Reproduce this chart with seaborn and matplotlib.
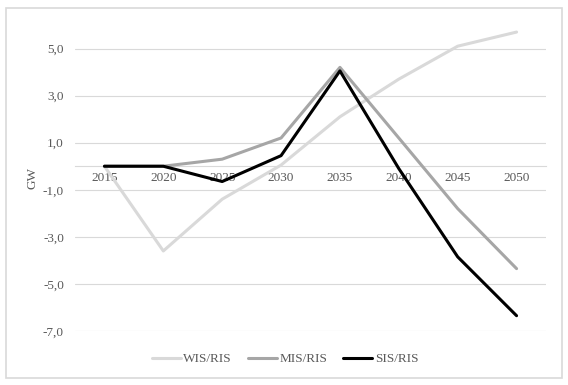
import matplotlib
matplotlib.use("Agg")
import matplotlib.pyplot as plt
import seaborn as sns
import pandas as pd
from matplotlib.patches import Rectangle

years = [2015, 2020, 2025, 2030, 2035, 2040, 2045, 2050]
wis = [0.0, -3.6, -1.4, 0.05, 2.1, 3.7, 5.1, 5.7]
mis = [0.0, 0.0, 0.3, 1.2, 4.2, 1.2, -1.8, -4.35]
sis = [0.0, 0.0, -0.65, 0.45, 4.05, -0.1, -3.85, -6.35]
series_names = ["WIS/RIS", "MIS/RIS", "SIS/RIS"]
yticks = [-7, -5, -3, -1, 1, 3, 5]
ytick_labels = ["-7,0", "-5,0", "-3,0", "-1,0", "1,0", "3,0", "5,0"]

df = pd.concat([
    pd.DataFrame({"year": years, "value": v, "series": n})
    for v, n in zip([wis, mis, sis], series_names)
])

sns.set_theme(style="white")
plt.rcParams["font.family"] = ["Liberation Serif", "DejaVu Serif"]

fig = plt.figure(figsize=(5.68, 3.85), dpi=100)
fig.patches.append(Rectangle((6/568, 1-378/385), 556/568, 370/385,
                             transform=fig.transFigure, fill=False,
                             edgecolor="#d9d9d9", linewidth=1.2))
ax = fig.add_axes([75/568, 54/385, 471/568, 306/385])

palette = {"WIS/RIS": "#d9d9d9", "MIS/RIS": "#a6a6a6", "SIS/RIS": "#000000"}
sns.lineplot(data=df, x="year", y="value", hue="series", palette=palette,
             linewidth=2.2, ax=ax, legend=True)

ax.set_xlim(2012.5, 2052.5)
ax.set_ylim(-7, 6)
ax.set_yticks(yticks)
ax.set_yticklabels(ytick_labels)
ax.set_xticks(years)
ax.set_xticklabels([str(y) for y in years])
for y in yticks:
    ax.axhline(y, color="#d9d9d9", linewidth=0.8, zorder=0)
for s in ["top", "right", "left"]:
    ax.spines[s].set_visible(False)
ax.spines["bottom"].set_position(("data", 0))
ax.spines["bottom"].set_color("#d9d9d9")
ax.spines["bottom"].set_linewidth(0.8)
ax.spines["bottom"].set_zorder(0)
ax.tick_params(axis="both", length=0, labelsize=9.5, labelcolor="#595959")
ax.tick_params(axis="y", pad=8)
ax.tick_params(axis="x", pad=4)
ax.set_xlabel("")
ax.set_ylabel("")
fig.text(33/568, 1-178/385, "GW", rotation=90, ha="center", va="center",
         fontsize=9.5, color="#595959")

ax.get_legend().remove()
handles, labels = ax.get_legend_handles_labels()
fig.legend(handles, labels, loc="center", bbox_to_anchor=(0.502, 1-359/385),
           ncol=3, frameon=False, fontsize=9.5, labelcolor="#595959",
           handlelength=2.2, handletextpad=0.2, columnspacing=1.2)

fig.savefig("out.png", dpi=100)
